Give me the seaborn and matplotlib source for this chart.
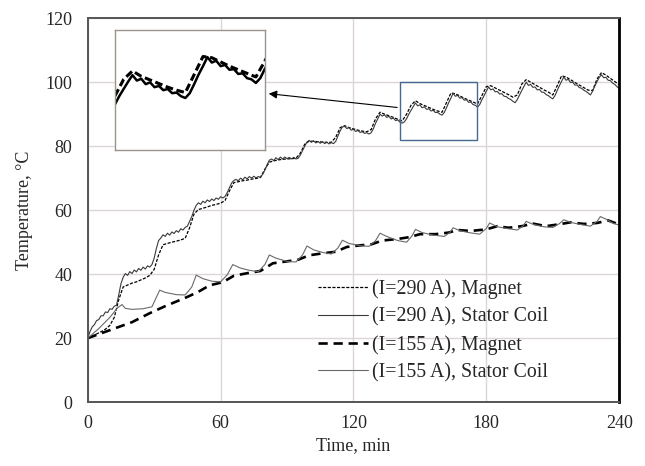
import matplotlib
matplotlib.use("Agg")
import matplotlib.pyplot as plt
import seaborn as sns
import pandas as pd
from matplotlib.patches import Rectangle

# I=290 A, stator coil, sampled every minute
stator290_t = list(range(0, 241))
stator290 = [
    20.0, 22.0, 23.5, 24.2, 25.5, 25.8, 27.0, 27.0, 28.2, 28.0, 29.2, 29.0, 30.0, 30.3, 33.5, 37.0,
    39.0, 40.2, 39.6, 40.8, 40.2, 41.3, 40.7, 41.8, 41.2, 42.2, 41.6, 42.6, 42.2, 43.0, 45.0, 48.0,
    50.5, 51.3, 52.3, 51.8, 52.8, 52.2, 53.2, 52.7, 53.6, 53.1, 54.2, 53.8, 54.6, 55.0, 56.5, 58.0,
    60.0, 61.5, 62.3, 61.8, 62.8, 62.3, 63.2, 62.7, 63.5, 63.0, 63.8, 63.4, 64.2, 63.8, 64.3, 65.5,
    67.0, 68.5, 69.3, 69.6, 69.2, 70.0, 69.5, 70.3, 69.8, 70.5, 70.0, 70.6, 70.1, 70.5, 70.3, 71.2,
    72.5, 74.2, 75.6, 76.0, 75.5, 76.4, 75.8, 76.6, 76.0, 76.6, 76.1, 76.5, 76.0, 76.5, 76.0, 76.2,
    77.2, 78.6, 80.0, 81.3, 81.8, 81.2, 81.7, 81.0, 81.5, 80.9, 81.4, 80.8, 81.2, 80.7, 81.1, 80.8,
    81.5, 83.2, 84.8, 86.0, 86.2, 85.5, 85.8, 85.0, 85.3, 84.6, 84.9, 84.3, 84.5, 84.0, 84.2, 83.8,
    84.2, 85.5, 87.2, 88.6, 90.0, 89.4, 89.8, 89.0, 89.3, 88.5, 88.8, 88.0, 88.2, 87.5, 87.2, 87.6,
    88.6, 90.0, 91.2, 92.4, 93.5, 92.6, 92.9, 92.0, 92.3, 91.5, 91.7, 91.0, 91.2, 90.5, 90.6, 90.0,
    89.7, 90.5, 92.0, 93.6, 95.0, 96.5, 95.6, 95.9, 95.0, 95.2, 94.4, 94.5, 93.7, 93.8, 93.0, 92.8,
    92.2, 93.0, 94.5, 95.8, 97.2, 98.5, 97.6, 97.9, 97.0, 97.1, 96.3, 96.4, 95.6, 95.5, 94.9, 94.6,
    94.0, 93.6, 94.6, 96.0, 97.4, 98.7, 100.0, 99.0, 99.3, 98.4, 98.5, 97.6, 97.7, 96.9, 96.8, 96.1,
    95.8, 95.2, 94.8, 95.8, 97.4, 98.9, 100.3, 101.6, 100.6, 100.9, 99.9, 100.0, 99.1, 99.1, 98.3, 98.1,
    97.5, 97.1, 96.6, 96.0, 97.2, 98.8, 100.2, 101.5, 102.3, 101.4, 101.5, 100.6, 100.5, 99.7, 99.3, 98.6,
    98.0,
]

# I=290 A, magnet, sampled every 2 minutes
magnet290_t = list(range(0, 241, 2))
magnet290 = [
    20.0, 20.6, 21.3, 22.0, 22.8, 24.0, 26.5, 32.0, 36.0, 36.6, 37.2, 37.6, 38.2, 38.8, 39.6, 41.5,
    46.0, 49.2, 49.6, 50.0, 50.3, 50.7, 51.2, 54.5, 58.8, 60.2, 60.6, 61.0, 61.5, 61.8, 62.2, 63.0,
    66.0, 68.6, 68.9, 69.2, 69.4, 69.7, 69.9, 70.2, 72.8, 75.0, 75.4, 75.7, 75.9, 76.0, 76.1, 76.2,
    77.8, 80.6, 81.6, 81.5, 81.4, 81.3, 81.2, 81.2, 82.8, 85.8, 86.4, 85.8, 85.4, 85.0, 84.7, 84.5,
    85.2, 88.6, 90.6, 90.0, 89.5, 89.0, 88.4, 87.9, 90.0, 92.8, 94.2, 93.3, 92.7, 92.1, 91.5, 91.0,
    90.6, 93.6, 96.6, 96.4, 95.7, 95.0, 94.4, 93.8, 93.2, 95.8, 98.6, 98.9, 98.2, 97.5, 96.8, 96.1,
    95.3, 96.0, 99.4, 100.8, 100.0, 99.2, 98.4, 97.6, 96.9, 96.0, 98.9, 102.0, 101.6, 100.8, 99.9, 99.1,
    98.3, 97.5, 97.4, 101.0, 103.0, 102.2, 101.2, 100.2, 99.2,
]

# I=155 A, stator coil
stator155_t = [0, 5, 10, 13.5, 15.5, 17, 20, 25, 29, 32.5, 35, 40, 44, 47, 49, 52, 56, 60, 63, 65.5,
               69, 73, 77, 80, 82, 85, 90, 94, 97, 99, 102, 106, 110, 113, 115, 118, 123, 127, 130,
               132, 135, 140, 144, 146.5, 148, 151, 156, 161, 163.5, 165, 168, 172, 177, 180, 181.5,
               185, 190, 194, 196.5, 198, 201, 206, 210, 213, 215, 218, 222, 227, 230, 231.5, 234,
               237, 240]
stator155 = [20.0, 23.0, 26.5, 29.5, 30.5, 29.3, 29.0, 29.2, 29.8, 35.0, 34.3, 33.6, 33.5, 36.0, 39.7,
             38.6, 37.8, 37.6, 39.8, 43.0, 41.9, 41.2, 40.8, 43.0, 46.0, 45.0, 44.0, 43.8, 46.0, 48.8,
             47.6, 46.8, 46.3, 48.2, 50.6, 49.6, 48.9, 48.7, 50.5, 52.8, 51.8, 50.5, 50.0, 52.0, 54.0,
             53.0, 52.2, 51.8, 53.0, 54.5, 53.6, 53.0, 52.5, 54.3, 56.0, 54.8, 54.2, 53.8, 55.0, 56.5,
             55.6, 54.8, 54.6, 55.8, 57.0, 56.2, 55.6, 55.0, 56.5, 58.0, 57.2, 56.0, 55.3]

# I=155 A, magnet
magnet155_t = [0, 10, 20, 28, 35, 44.7, 50, 55, 61, 66, 72, 78, 83.6, 90, 95, 100, 106, 112, 117, 123,
               128, 133, 140, 145.5, 150, 157, 163, 167, 173, 180, 185, 190, 196, 201, 207, 213, 218,
               224, 230, 235, 240]
magnet155 = [20.0, 22.5, 25.0, 27.8, 30.0, 32.8, 34.5, 36.5, 37.5, 39.5, 40.3, 41.0, 43.4, 44.0, 44.5,
             45.9, 46.5, 47.0, 48.5, 49.0, 49.3, 50.5, 51.0, 51.6, 52.5, 52.5, 53.0, 53.8, 53.5, 54.0,
             55.0, 54.5, 55.0, 55.8, 55.0, 55.6, 56.2, 55.7, 56.0, 56.8, 55.5]

labels = ["(I=290 A), Magnet", "(I=290 A), Stator Coil", "(I=155 A), Magnet", "(I=155 A), Stator Coil"]

sns.set_style("whitegrid")
plt.rcParams["font.family"] = ["Liberation Serif", "DejaVu Serif"]

fig = plt.figure(figsize=(6.45, 4.66), dpi=100)
ax = fig.add_axes([0.136, 0.137, 0.824, 0.824])

styles = [
    (magnet290_t, magnet290, labels[0], dict(color="black", lw=0.9, dashes=(2.5, 1.2))),
    (stator290_t, stator290, labels[1], dict(color="#3a3a3a", lw=0.8)),
    (magnet155_t, magnet155, labels[2], dict(color="black", lw=1.9, dashes=(3.5, 2.2))),
    (stator155_t, stator155, labels[3], dict(color="#6a6a6a", lw=0.8)),
]
for t, v, lab, kw in styles:
    sns.lineplot(x=t, y=v, ax=ax, label=lab, sort=False, estimator=None, **kw)

ax.set_xlim(0, 240)
ax.set_ylim(0, 120)
ax.set_xticks([0, 60, 120, 180, 240])
ax.set_yticks([0, 20, 40, 60, 80, 100, 120])
ax.grid(True, color="#dcd6d6", lw=1.0)
ax.tick_params(length=0, labelsize=13)
ax.tick_params(axis="y", pad=11)
ax.tick_params(axis="x", pad=9)
ax.set_xlabel("Time, min", fontsize=13, labelpad=4)
ax.set_ylabel("Temperature, °C", fontsize=13, labelpad=9)
for side in ["left", "bottom", "top"]:
    ax.spines[side].set_color("#555555")
    ax.spines[side].set_linewidth(1.4)
ax.spines["right"].set_color("black")
ax.spines["right"].set_linewidth(2.0)

leg = ax.legend(loc="upper left", bbox_to_anchor=(0.433, 0.32), frameon=False, fontsize=14.3,
                handlelength=2.5, labelspacing=0.42, handletextpad=0.25, borderpad=0,
                borderaxespad=0)

# zoom box and inset
x0, x1, y0, y1 = 141, 176, 82, 100
ax.add_patch(Rectangle((x0, y0), x1 - x0, y1 - y0, fill=False, edgecolor="#45698f", lw=1.0, zorder=5))
ins = ax.inset_axes([0.051, 0.656, 0.282, 0.313])
sns.lineplot(x=magnet290_t, y=magnet290, ax=ins, sort=False, estimator=None, color="black", lw=2.2,
             dashes=(2.5, 1.2), legend=False)
sns.lineplot(x=stator290_t, y=stator290, ax=ins, sort=False, estimator=None, color="black", lw=1.8,
             legend=False)
ins.set_xlim(144, 178)
ins.set_ylim(81, 101)
ins.set_xticks([])
ins.set_yticks([])
ins.set_xlabel("")
ins.set_ylabel("")
ins.grid(False)
ins.set_facecolor("white")
for s in ins.spines.values():
    s.set_color("#9a948c")
    s.set_linewidth(1.0)

ax.annotate("", xy=(80.5, 96.5), xytext=(x0, 92.0),
            arrowprops=dict(arrowstyle="-|>", color="black", lw=0.8, mutation_scale=12), zorder=6)

fig.savefig("out.png", dpi=100)
